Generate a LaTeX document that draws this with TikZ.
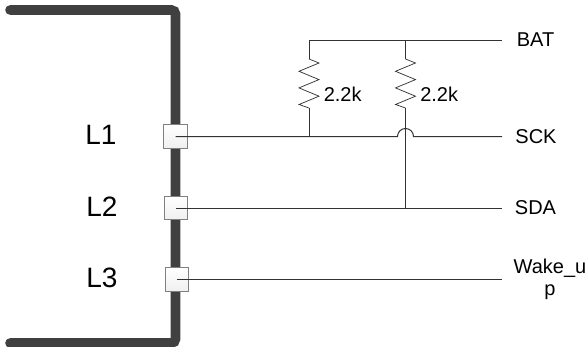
\documentclass[tikz,border=0pt]{standalone}
\usepackage{fontspec}
\setmainfont{Liberation Sans}
\usetikzlibrary{positioning}
\definecolor{bodygray}{HTML}{404040}
\definecolor{wiregray}{HTML}{333333}
\begin{document}
\begin{tikzpicture}[x=0.75pt,y=-0.75pt]
 \tikzstyle{wire}=[draw=wiregray, line width=0.75pt]
 \tikzstyle{zigzag}=[draw=wiregray, line width=0.55pt]
 \tikzstyle{pin}=[draw=gray, line width=0.75pt, minimum size=17.5pt, inner sep=0pt, top color=white, bottom color=black!6]
 \tikzstyle{port}=[font=\fontsize{15}{16.5}\selectfont, inner sep=0pt, align=center]
 \tikzstyle{line}=[font=\fontsize{21}{24}\selectfont, inner sep=0pt]
 \useasboundingbox (0,0) rectangle (588,346);
 % module outline
 \draw[bodygray, line width=7.2pt, line cap=round, rounded corners=3pt] (10,10) -- (175.5,10) -- (175.5,343) -- (10,343);
 % pins
 \node[pin] (l1) at (175.5,136.5) {};
 \node[pin] (l2) at (176,208) {};
 \node[pin] (l3) at (177,279.5) {};
 \node[line] (t1) at (101,135) {L1};
 \node[line] (t2) at (102,207) {L2};
 \node[line] (t3) at (102,278) {L3};
 % ports
 \coordinate (bat) at (502,41);
 \coordinate (sck) at (502,136.5);
 \coordinate (sda) at (502,208);
 \coordinate (wake) at (502,279.5);
 \node[port] (tbat) at (535.5,40) {BAT};
 \node[port] (tsck) at (536,136.5) {SCK};
 \node[port] (tsda) at (535.5,208) {SDA};
 \node[port] (twake) at (550,279) {Wake\_u\\p};
 % junctions
 \coordinate (r1top) at (309,41);
 \coordinate (r2top) at (405.5,41);
 \coordinate (r1a) at (309,59);
 \coordinate (r2a) at (405.5,59);
 \coordinate (r1b) at (309,108);
 \coordinate (r2b) at (405.5,108);
 \coordinate (r1bot) at (309,136.5);
 \coordinate (hopl) at (397.5,136.5);
 \coordinate (r2bot) at (405.5,208);
 \node[port] (t2k1) [anchor=west] at (323.5,94) {2.2k};
 \node[port] (t2k2) [anchor=west] at (420,94) {2.2k};
 % wires
 \draw[wire] (r1top) -- (bat);
 \draw[wire] (l1.center) -- (hopl) arc[start angle=180, end angle=0, radius=6pt] -- (sck);
 \draw[wire] (l2.center) -- (sda);
 \draw[wire] (l3.center) -- (wake);
 \draw[wire] (r1top) -- (r1a);
 \draw[wire] (r2top) -- (r2a);
 \draw[wire] (r1b) -- (r1bot);
 \draw[wire] (r2b) -- (r2bot);
 % resistors
 \draw[zigzag] (r1a) -- ++(10,4) -- ++(-20,8.3) -- ++(20,8.3) -- ++(-20,8.3) -- ++(20,8.3) -- ++(-20,8.3) -- (r1b);
 \draw[zigzag] (r2a) -- ++(10,4) -- ++(-20,8.3) -- ++(20,8.3) -- ++(-20,8.3) -- ++(20,8.3) -- ++(-20,8.3) -- (r2b);
\end{tikzpicture}
\end{document}
